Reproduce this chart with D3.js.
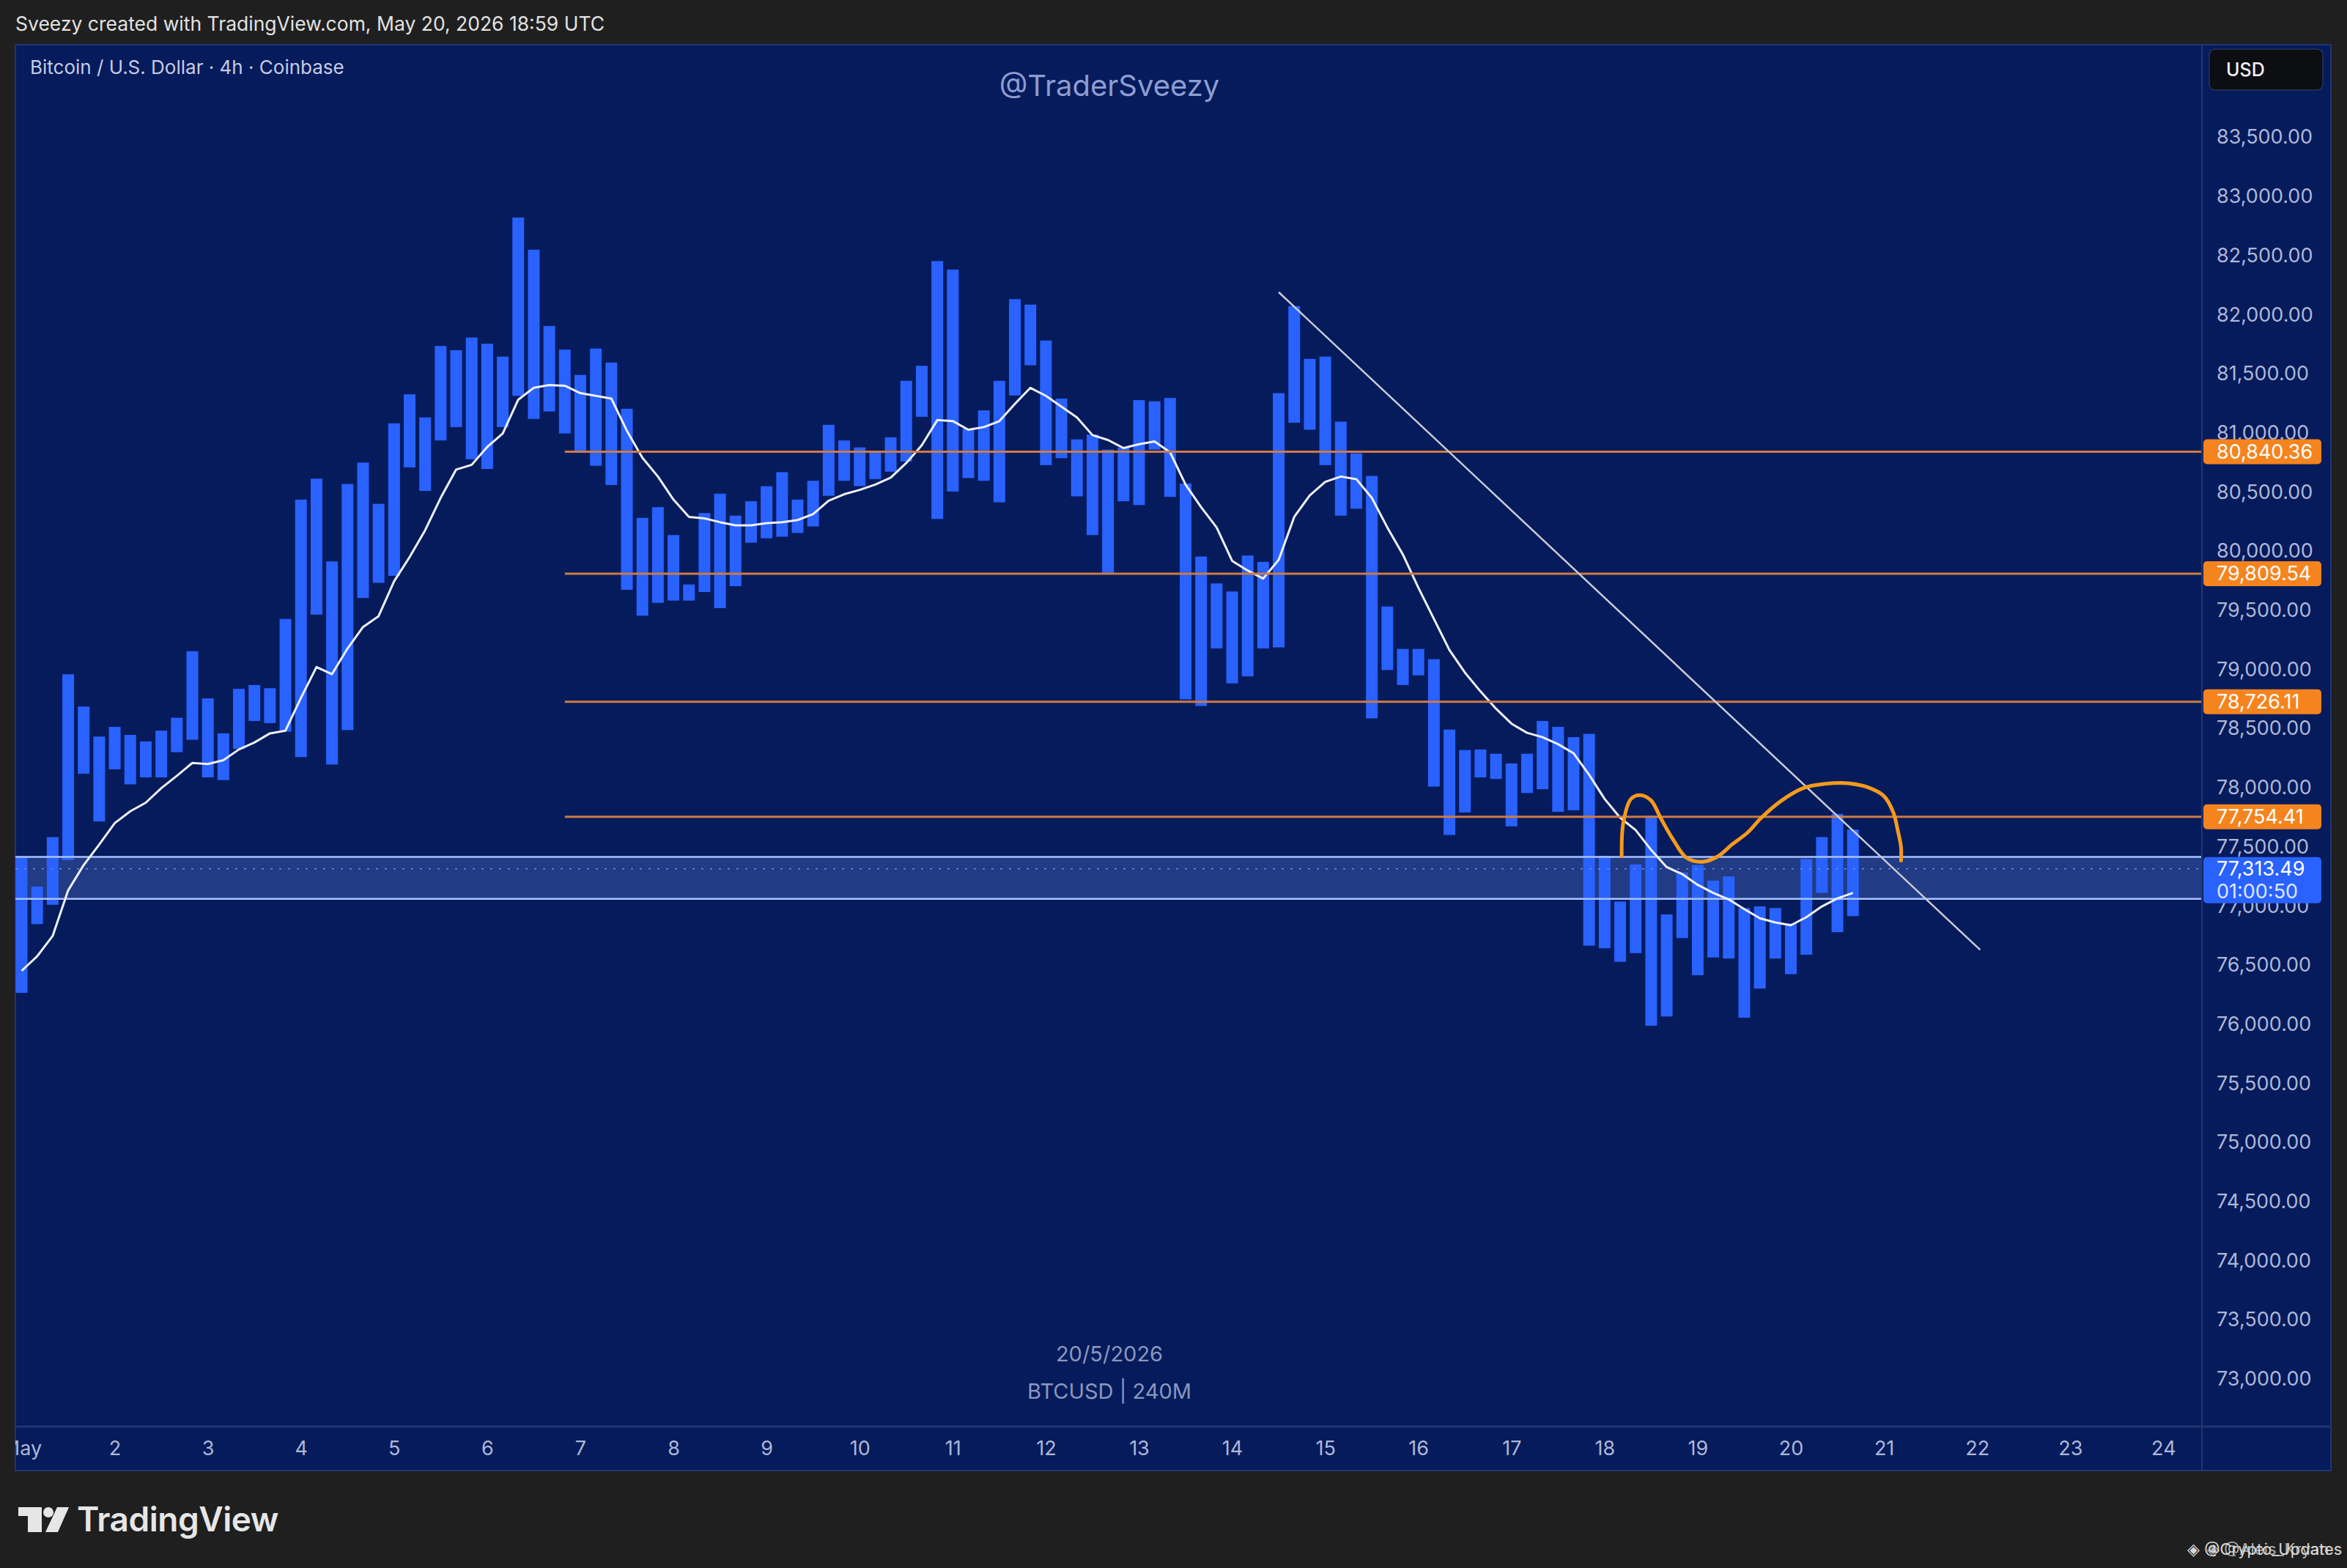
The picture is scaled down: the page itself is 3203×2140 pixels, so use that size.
<!DOCTYPE html>
<html>
<head>
<meta charset="utf-8">
<title>BTCUSD 4h - TraderSveezy</title>
<script src="https://cdn.jsdelivr.net/npm/d3@7"></script>
<style>
  html, body { margin: 0; padding: 0; background: #1f1f1f; overflow: hidden; }
  svg text { font-family: Inter, Roboto, "Liberation Sans", sans-serif; }
</style>
</head>
<body>
<script>
// 4h bars from May 1 00:00 UTC, drawn as high-low columns
var barHigh = [
  77419, 77164, 77582, 78959, 78686, 78432, 78514, 78446, 78391, 78482,
  78591, 79154, 78755, 78459, 78836, 78868, 78841, 79427, 80436, 80613,
  79913, 80568, 80749, 80400, 81081, 81326, 81131, 81735, 81699, 81806,
  81754, 81645, 82821, 82549, 81904, 81704, 81490, 81713, 81595, 81204,
  80281, 80372, 80136, 79718, 80322, 80486, 80300, 80422, 80549, 80668,
  80436, 80595, 81068, 80936, 80877, 80840, 80963, 81440, 81567, 82453,
  82381, 81036, 81190, 81440, 82131, 82085, 81781, 81290, 80945, 80986,
  80859, 80877, 81277, 81267, 81295, 80572, 79954, 79727, 79659, 79963,
  79909, 81336, 82072, 81626, 81645, 81095, 80827, 80636, 79532, 79173,
  79173, 79086, 78491, 78318, 78323, 78287, 78205, 78287, 78564, 78514,
  78427, 78455, 77423, 77037, 77351, 77764, 76928, 77282, 77346, 77214,
  77250, 76982, 76996, 76982, 76851, 77396, 77582, 77778, 77646
];
var barLow = [
  76265, 76846, 77010, 77387, 78118, 77714, 78155, 78028, 78087, 78087,
  78300, 78405, 78087, 78064, 78327, 78564, 78546, 78473, 78259, 79463,
  78196, 78487, 79604, 79732, 79791, 80708, 80509, 80936, 81049, 80777,
  80695, 81049, 81313, 81118, 81181, 80995, 80831, 80722, 80559, 79673,
  79454, 79563, 79582, 79582, 79654, 79518, 79704, 80072, 80109, 80122,
  80154, 80209, 80468, 80595, 80550, 80609, 80672, 80758, 81136, 80272,
  80504, 80618, 80595, 80413, 81317, 81572, 80727, 80786, 80463, 80136,
  79804, 80422, 80390, 80858, 80459, 78746, 78691, 79177, 78882, 78941,
  79177, 79186, 81086, 81027, 80727, 80300, 80359, 78586, 78995, 78868,
  78950, 78009, 77600, 77791, 78087, 78073, 77673, 77955, 77987, 77796,
  77809, 76664, 76642, 76528, 76601, 75987, 76065, 76728, 76414, 76564,
  76555, 76055, 76301, 76555, 76423, 76587, 77110, 76778, 76914
];
// moving average, one value per bar
var maValues = [
  76451, 76574, 76746, 77132, 77346, 77519, 77700, 77800, 77873, 77996,
  78100, 78209, 78200, 78232, 78323, 78382, 78459, 78482, 78760, 79020,
  78960, 79177, 79359, 79450, 79745, 79950, 80177, 80450, 80690, 80730,
  80881, 80995, 81281, 81381, 81404, 81399, 81336, 81313, 81290, 81018,
  80790, 80631, 80436, 80290, 80277, 80245, 80218, 80218, 80236, 80245,
  80263, 80313, 80427, 80481, 80518, 80563, 80622, 80745, 80895, 81108,
  81100, 81027, 81049, 81099, 81245, 81381, 81313, 81222, 81131, 80981,
  80940, 80872, 80904, 80927, 80836, 80563, 80372, 80200, 79918, 79836,
  79768, 79927, 80290, 80472, 80586, 80631, 80609, 80450, 80200, 79972,
  79691, 79427, 79164, 78973, 78814, 78668, 78541, 78464, 78427, 78368,
  78291, 78109, 77905, 77746, 77641, 77473, 77328, 77269, 77178, 77110,
  77055, 76973, 76896, 76860, 76837, 76905, 76996, 77064, 77110
];
var dayLabels = ["May", "2", "3", "4", "5", "6", "7", "8", "9", "10", "11", "12",
  "13", "14", "15", "16", "17", "18", "19", "20", "21", "22", "23", "24"];
var barsPerDay = 6;
var priceTicks = [73000, 73500, 74000, 74500, 75000, 75500, 76000, 76500, 77000,
  77500, 78000, 78500, 79000, 79500, 80000, 80500, 81000, 81500, 82000, 82500, 83000, 83500];
var levelPrices = [80840.36, 79809.54, 78726.11, 77754.41];
var levelStartBar = 35;
var lastPrice = 77313.49;
var countdown = "01:00:50";
var zoneTop = 77414, zoneBottom = 77060;
var trendBars = [81.0, 126.2];
var trendPrices = [82190, 76628];
// hand drawn orange stroke: bar position / price
var sketchBars = [103.1, 103.2, 103.7, 104.3, 105.0, 105.6, 106.4, 107.3, 108.3, 109.3, 110.2,
  111.2, 112.1, 113.4, 114.8, 116.2, 117.7, 119.1, 120.0, 120.6, 120.9, 121.1, 121.1];
var sketchPrices = [77419, 77700, 77905, 77937, 77891, 77746, 77564, 77405, 77373, 77419, 77519,
  77619, 77746, 77891, 77996, 78032, 78037, 77996, 77928, 77791, 77632, 77496, 77383];

var W = 3203, H = 2140;
var plot = {left: 21, top: 61, right: 3005, bottom: 1947};
var panelRight = 3181, panelBottom = 2007;
var bg = "#051b5c", grid = "#22356e", tickColor = "#aeb7d6";
var fontStack = "Inter, Roboto, 'Liberation Sans', sans-serif";

var svg = d3.select("body").append("svg").attr("width", W).attr("height", H);
svg.append("rect").attr("width", W).attr("height", H).attr("fill", "#1f1f1f");
svg.append("rect")
  .attr("x", plot.left).attr("y", plot.top)
  .attr("width", panelRight - plot.left).attr("height", panelBottom - plot.top)
  .attr("fill", bg).attr("stroke", grid).attr("stroke-width", 2);

var x = d3.scaleLinear().domain([0, 120]).range([29.5, 29.5 + 120 * 21.18]);
var y = d3.scaleLinear().domain([73000, 83500]).range([1882, 187.3]);

var defs = svg.append("defs");
defs.append("clipPath").attr("id", "plotClip").append("rect")
  .attr("x", plot.left).attr("y", plot.top)
  .attr("width", plot.right - plot.left).attr("height", plot.bottom - plot.top);

// header text
svg.append("text").attr("x", 21).attr("y", 42)
  .attr("font-size", 26.5).attr("fill", "#e2e2e2")
  .text("Sveezy created with TradingView.com, May 20, 2026 18:59 UTC");

var chart = svg.append("g").attr("clip-path", "url(#plotClip)");

chart.append("text").attr("x", 41).attr("y", 101)
  .attr("font-size", 26).attr("fill", "#c6cce2")
  .text("Bitcoin / U.S. Dollar \u00b7 4h \u00b7 Coinbase");
chart.append("text").attr("x", 1514).attr("y", 131)
  .attr("text-anchor", "middle").attr("font-size", 40).attr("fill", "#8e9dd0")
  .text("@TraderSveezy");
chart.append("text").attr("x", 1514).attr("y", 1858)
  .attr("text-anchor", "middle").attr("font-size", 29).attr("fill", "#8c97bd")
  .text("20/5/2026");
chart.append("text").attr("x", 1514).attr("y", 1909)
  .attr("text-anchor", "middle").attr("font-size", 29).attr("fill", "#8c97bd")
  .text("BTCUSD | 240M");

// highlighted zone around the last price
chart.append("rect")
  .attr("x", plot.left).attr("width", plot.right - plot.left)
  .attr("y", y(zoneTop)).attr("height", y(zoneBottom) - y(zoneTop))
  .attr("fill", "#6f95f0").attr("fill-opacity", 0.27);

// bars
var bars = barHigh.map(function(h, i) { return {i: i, high: h, low: barLow[i]}; });
chart.selectAll("rect.bar")
  .data(bars)
  .enter().append("rect")
    .attr("class", "bar")
    .attr("x", function(d) { return x(d.i) - 8; })
    .attr("width", 16)
    .attr("y", function(d) { return y(d.high); })
    .attr("height", function(d) { return y(d.low) - y(d.high); })
    .attr("fill", "#2962ff");

[zoneTop, zoneBottom].forEach(function(v) {
  chart.append("line")
    .attr("x1", plot.left).attr("x2", plot.right)
    .attr("y1", y(v)).attr("y2", y(v))
    .attr("stroke", "#a9c2ff").attr("stroke-width", 2.5);
});
chart.append("line")
  .attr("x1", plot.left).attr("x2", plot.right)
  .attr("y1", y(lastPrice)).attr("y2", y(lastPrice))
  .attr("stroke", "#6d8ff0").attr("stroke-width", 1.5).attr("stroke-dasharray", "3,9");

// moving average
var maLine = d3.line()
  .x(function(d, i) { return x(i); })
  .y(function(d) { return y(d); });
chart.append("path")
  .attr("d", maLine(maValues))
  .attr("fill", "none").attr("stroke", "#eef0f8").attr("stroke-width", 3)
  .attr("stroke-linejoin", "round");

// horizontal levels
chart.selectAll("line.level")
  .data(levelPrices)
  .enter().append("line")
    .attr("class", "level")
    .attr("x1", x(levelStartBar)).attr("x2", plot.right)
    .attr("y1", function(d) { return y(d); })
    .attr("y2", function(d) { return y(d); })
    .attr("stroke", "#cf7b42").attr("stroke-width", 3);

// trend line
chart.append("line")
  .attr("x1", x(trendBars[0])).attr("y1", y(trendPrices[0]))
  .attr("x2", x(trendBars[1])).attr("y2", y(trendPrices[1]))
  .attr("stroke", "#c9ccd8").attr("stroke-width", 2.5);

// orange sketch
var sketchLine = d3.line()
  .x(function(d) { return x(d[0]); })
  .y(function(d) { return y(d[1]); })
  .curve(d3.curveCatmullRom);
chart.append("path")
  .attr("d", sketchLine(sketchBars.map(function(b, i) { return [b, sketchPrices[i]]; })))
  .attr("fill", "none").attr("stroke", "#f59a1c").attr("stroke-width", 5)
  .attr("stroke-linecap", "round").attr("stroke-linejoin", "round");

// panel separators
svg.append("line").attr("x1", plot.right).attr("x2", plot.right)
  .attr("y1", plot.top).attr("y2", panelBottom)
  .attr("stroke", grid).attr("stroke-width", 2);
svg.append("line").attr("x1", plot.left).attr("x2", panelRight)
  .attr("y1", plot.bottom).attr("y2", plot.bottom)
  .attr("stroke", grid).attr("stroke-width", 3);

// price axis
var yAxis = d3.axisRight(y)
  .tickValues(priceTicks)
  .tickSize(0).tickPadding(20)
  .tickFormat(d3.format(",.2f"));
var yAxisG = svg.append("g").attr("transform", "translate(" + plot.right + ",0)").call(yAxis);
yAxisG.select(".domain").remove();
yAxisG.selectAll("text")
  .attr("font-size", 27).attr("fill", tickColor)
  .style("font-family", fontStack);

// level labels
var fmt = d3.format(",.2f");
var levelTags = svg.selectAll("g.tag")
  .data(levelPrices)
  .enter().append("g")
    .attr("class", "tag")
    .attr("transform", function(d) { return "translate(" + plot.right + "," + y(d) + ")"; });
levelTags.append("rect")
  .attr("x", 2).attr("y", -17).attr("width", 161).attr("height", 34).attr("rx", 5)
  .attr("fill", "#f5841f");
levelTags.append("text")
  .attr("x", 20).attr("y", 0).attr("dy", "0.35em")
  .attr("font-size", 27).attr("fill", "#ffffff")
  .text(function(d) { return fmt(d); });

var lastTag = svg.append("g").attr("transform", "translate(" + plot.right + "," + y(lastPrice) + ")");
lastTag.append("rect")
  .attr("x", 2).attr("y", -16).attr("width", 161).attr("height", 63).attr("rx", 5)
  .attr("fill", "#2962ff");
lastTag.append("text").attr("x", 20).attr("y", 0).attr("dy", "0.35em")
  .attr("font-size", 27).attr("fill", "#ffffff").text(fmt(lastPrice));
lastTag.append("text").attr("x", 20).attr("y", 31).attr("dy", "0.35em")
  .attr("font-size", 27).attr("fill", "#dfe6ff").text(countdown);

// currency box
svg.append("rect").attr("x", 3015).attr("y", 67).attr("width", 155).attr("height", 56).attr("rx", 8)
  .attr("fill", "#0d0e12").attr("stroke", "#27345e").attr("stroke-width", 1.5);
svg.append("text").attr("x", 3038).attr("y", 95).attr("dy", "0.35em")
  .attr("font-size", 25).attr("font-weight", 500).attr("fill", "#f2f2f2").text("USD");

// time axis
defs.append("clipPath").attr("id", "timeClip").append("rect")
  .attr("x", plot.left).attr("y", plot.bottom).attr("width", plot.right - plot.left)
  .attr("height", panelBottom - plot.bottom);
var xAxis = d3.axisBottom(x)
  .tickValues(dayLabels.map(function(d, k) { return k * barsPerDay; }))
  .tickSize(0).tickPadding(20)
  .tickFormat(function(d, k) { return dayLabels[k]; });
var xAxisG = svg.append("g")
  .attr("clip-path", "url(#timeClip)")
  .append("g")
  .attr("transform", "translate(0," + plot.bottom + ")")
  .call(xAxis);
xAxisG.select(".domain").remove();
xAxisG.selectAll("text")
  .attr("font-size", 27).attr("fill", tickColor)
  .style("font-family", fontStack);

// TradingView logo
var logo = svg.append("g").attr("fill", "#e6e6e6");
logo.append("rect").attr("x", 25).attr("y", 2057).attr("width", 32).attr("height", 12);
logo.append("rect").attr("x", 38).attr("y", 2057).attr("width", 19).attr("height", 34);
logo.append("circle").attr("cx", 66).attr("cy", 2064).attr("r", 7);
logo.append("polygon").attr("points", "78,2057 94,2057 79,2091 62,2091");
logo.append("text").attr("x", 105).attr("y", 2090)
  .attr("font-size", 46).attr("font-weight", 600).attr("letter-spacing", -0.5)
  .text("TradingView");

// overlapping share watermarks, bottom right
var wm = svg.append("g").attr("fill", "#d8d8d8").attr("font-size", 22);
wm.append("text").attr("x", 2985).attr("y", 2122).text("\u25c8 @Crypto_Updates");
wm.append("text").attr("x", 3012).attr("y", 2122).attr("fill-opacity", 0.8).text("\u25c8 @Aleis_Kryan");
</script>
</body>
</html>
